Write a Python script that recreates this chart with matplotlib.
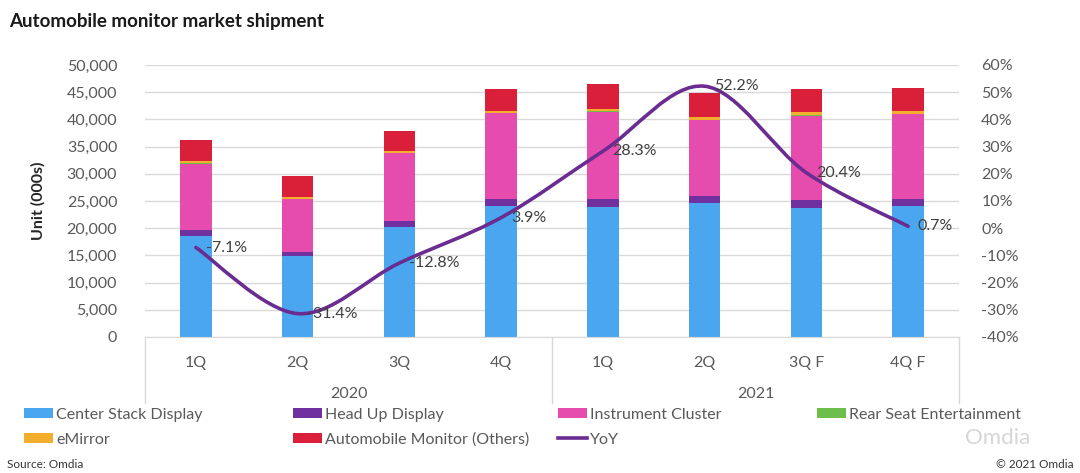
import matplotlib
matplotlib.use("Agg")
import matplotlib.pyplot as plt
from matplotlib.path import Path
from matplotlib.patches import PathPatch, Patch
from matplotlib.lines import Line2D
from matplotlib.ticker import FuncFormatter, MultipleLocator
import matplotlib.transforms as mtransforms

# ---------------- data ----------------
quarters = ["1Q", "2Q", "3Q", "4Q", "1Q", "2Q", "3Q F", "4Q F"]
years = ["2020", "2021"]
center_stack = [18600, 14900, 20300, 24100, 23950, 24600, 23700, 24000]
head_up = [1050, 750, 1000, 1300, 1350, 1400, 1400, 1400]
instrument_cluster = [12200, 9700, 12500, 15700, 16100, 13900, 15600, 15600]
rear_seat = [80, 80, 80, 80, 80, 80, 80, 80]
emirror = [450, 350, 350, 450, 450, 550, 550, 450]
others = [3750, 3800, 3700, 3900, 4500, 4400, 4200, 4200]
yoy = [-7.1, -31.4, -12.8, 3.9, 28.3, 52.2, 20.4, 0.7]

series = [
    ("Center Stack Display", center_stack, "#4AA7EF"),
    ("Head Up Display", head_up, "#7030A0"),
    ("Instrument Cluster", instrument_cluster, "#E64CAE"),
    ("Rear Seat Entertainment", rear_seat, "#6CBF4A"),
    ("eMirror", emirror, "#F3AE2E"),
    ("Automobile Monitor (Others)", others, "#DA1F3A"),
]
line_color = "#6A2C91"
text_color = "#595959"
grid_color = "#D9D9D9"

plt.rcParams["font.family"] = ["Lato", "DejaVu Sans"]

W, H = 1080, 473
fig = plt.figure(figsize=(W / 100, H / 100), dpi=100)
ax_left, ax_right, ax_bot, ax_top = 145, 959, 337, 65
ax = fig.add_axes([ax_left / W, 1 - ax_bot / H, (ax_right - ax_left) / W, (ax_bot - ax_top) / H])

x = list(range(len(quarters)))
bottom = [0.0] * len(x)
for name, vals, col in series:
    ax.bar(x, vals, width=0.31, bottom=bottom, color=col, zorder=2, linewidth=0)
    bottom = [b + v for b, v in zip(bottom, vals)]

ax.set_xlim(-0.5, len(x) - 0.5)
ax.set_ylim(0, 50000)
ax.yaxis.set_major_locator(MultipleLocator(5000))
ax.yaxis.set_major_formatter(FuncFormatter(lambda v, p: f"{int(v):,}"))
ax.grid(axis="y", color=grid_color, linewidth=1, zorder=0)
ax.set_axisbelow(True)
for s in ["top", "right", "left"]:
    ax.spines[s].set_visible(False)
ax.spines["bottom"].set_color(grid_color)
ax.spines["bottom"].set_zorder(3)
ax.tick_params(axis="y", length=0, pad=20, labelsize=11.5, labelcolor=text_color)
ax.set_xticks(x)
ax.set_xticklabels(quarters)
ax.tick_params(axis="x", length=0, pad=14, labelsize=11.5, labelcolor=text_color)

# multi-level category axis
trans = mtransforms.blended_transform_factory(ax.transData, ax.transAxes)
sep_bottom = -(403 - ax_bot) / (ax_bot - ax_top)
for xs in [-0.5, 3.5, 7.5]:
    ax.add_line(Line2D([xs, xs], [0, sep_bottom], transform=trans, color=grid_color,
                       linewidth=1, clip_on=False))
year_y = -(394 - ax_bot) / (ax_bot - ax_top)
ax.text(1.5, year_y, years[0], transform=trans, ha="center", va="center", fontsize=11.5, color=text_color)
ax.text(5.5, year_y, years[1], transform=trans, ha="center", va="center", fontsize=11.5, color=text_color)

# secondary axis with smoothed YoY line
ax2 = ax.twinx()
ax2.set_ylim(-40, 60)
ax2.yaxis.set_major_locator(MultipleLocator(10))
ax2.yaxis.set_major_formatter(FuncFormatter(lambda v, p: f"{int(round(v))}%"))
for s in ax2.spines.values():
    s.set_visible(False)
ax2.tick_params(axis="y", length=0, pad=16, labelsize=11.5, labelcolor=text_color)

pts = list(zip(x, yoy))
verts = [pts[0]]
codes = [Path.MOVETO]
n = len(pts)
for i in range(n - 1):
    p0 = pts[i - 1] if i > 0 else pts[i]
    p1 = pts[i]
    p2 = pts[i + 1]
    p3 = pts[i + 2] if i + 2 < n else pts[i + 1]
    c1 = (p1[0] + (p2[0] - p0[0]) / 6, p1[1] + (p2[1] - p0[1]) / 6)
    c2 = (p2[0] - (p3[0] - p1[0]) / 6, p2[1] - (p3[1] - p1[1]) / 6)
    verts += [c1, c2, p2]
    codes += [Path.CURVE4] * 3
ax2.add_patch(PathPatch(Path(verts, codes), fill=False, edgecolor=line_color,
                        linewidth=2.6, capstyle="round", zorder=3))
for xi, v in pts:
    ax2.annotate(f"{v}%", (xi, v), xytext=(7, 0), textcoords="offset points",
                 ha="left", va="center", fontsize=11.5, color="#404040", zorder=4)

# y label and titles
fig.text(38 / W, 1 - 201 / H, "Unit (000s)", rotation=90, ha="center", va="center",
         fontsize=11.5, fontweight="bold", color="#262626")
fig.text(9 / W, 1 - 22 / H, "Automobile monitor market shipment", ha="left", va="center",
         fontsize=13.5, fontweight="bold", color="#1a1a1a")
fig.text(7 / W, 1 - 464 / H, "Source: Omdia", ha="left", va="center", fontsize=8.5, color="#333333")
fig.text(1074 / W, 1 - 464 / H, "\u00a9 2021 Omdia", ha="right", va="center", fontsize=8.5, color="#333333")

# legend in 4 columns (row-wise order)
handles = {name: Patch(facecolor=col, edgecolor="none") for name, _, col in series}
handles["YoY"] = Line2D([0], [0], color=line_color, linewidth=2.6)
columns = [
    (24, ["Center Stack Display", "eMirror"]),
    (293, ["Head Up Display", "Automobile Monitor (Others)"]),
    (558, ["Instrument Cluster", "YoY"]),
    (817, ["Rear Seat Entertainment"]),
]
for cx, names in columns:
    leg = fig.legend([handles[nm] for nm in names], names, loc="upper left",
                     bbox_to_anchor=(cx / W, 1 - 408 / H), frameon=False, fontsize=11.5,
                     handlelength=1.8, handleheight=0.6, handletextpad=0.2,
                     labelspacing=0.66, borderaxespad=0, borderpad=0)
    for t in leg.get_texts():
        t.set_color(text_color)

# faint watermark
fig.text(1030 / W, 1 - 438 / H, "Omdia", ha="right", va="center", fontsize=16,
         color="#BBBBBB", alpha=0.6)

fig.savefig("out.png", dpi=100)
